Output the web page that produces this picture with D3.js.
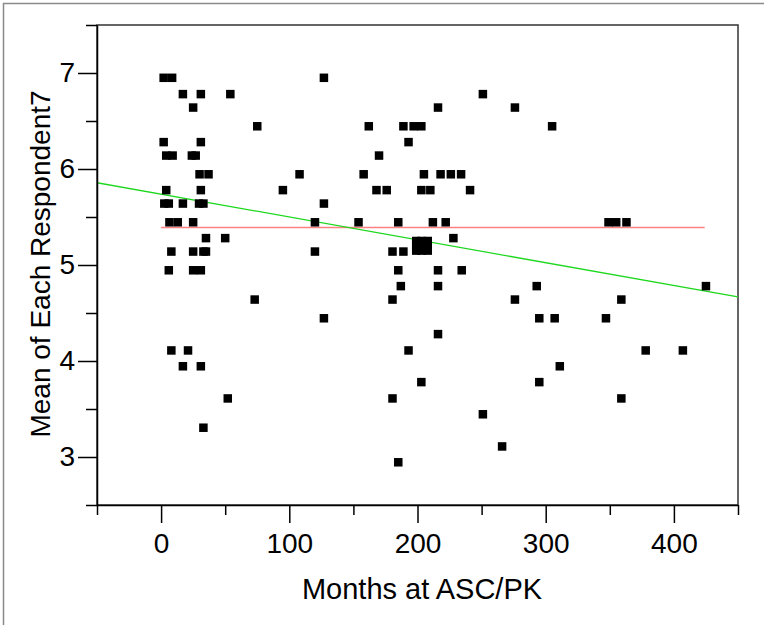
<!DOCTYPE html>
<html>
<head>
<meta charset="utf-8">
<script src="https://cdn.jsdelivr.net/npm/d3@7"></script>
<style>
  body { margin: 0; background: #fff; }
  svg text { font-family: "Liberation Sans", Arial, sans-serif; fill: #000; }
</style>
</head>
<body>
<div id="chart"></div>
<script>
// page size and plot box
const width = 764;
const height = 625;
const margin = {left: 97, right: 26, top: 25, bottom: 120};

// data (months, mean of each respondent)
const months = [
  2, 8.6, 127,
  17, 31, 54, 251,
  25, 216, 276,
  75, 162, 189, 197, 203, 305,
  2, 31, 193,
  4, 9, 24, 27, 170,
  30, 37, 108, 158, 205, 218, 226, 234,
  4, 31, 95, 168, 176, 203, 210, 241,
  2.5, 6, 17, 29.6, 33, 127,
  6.5, 13, 25, 120, 154, 185, 212, 222, 349, 355, 363,
  35, 50, 228,
  199, 203, 208, 199, 208, 199, 203, 208, 203,
  8, 25, 33, 35, 120, 180.5, 189,
  6, 25, 31, 185, 216, 234.5,
  187, 216, 293, 425,
  73, 180.5, 276, 359,
  127, 295, 307, 347,
  216,
  8, 21, 193, 378, 407,
  17, 31, 311,
  203, 295,
  52, 180.5, 359,
  251,
  33,
  266,
  185
];
const respondentMean = [
  6.95, 6.95, 6.95,
  6.78, 6.78, 6.78, 6.78,
  6.64, 6.64, 6.64,
  6.445, 6.445, 6.445, 6.445, 6.445, 6.445,
  6.28, 6.28, 6.28,
  6.14, 6.14, 6.14, 6.14, 6.14,
  5.945, 5.945, 5.945, 5.945, 5.945, 5.945, 5.945, 5.945,
  5.78, 5.78, 5.78, 5.78, 5.78, 5.78, 5.78, 5.78,
  5.64, 5.64, 5.64, 5.64, 5.64, 5.64,
  5.445, 5.445, 5.445, 5.445, 5.445, 5.445, 5.445, 5.445, 5.445, 5.445, 5.445,
  5.28, 5.28, 5.28,
  5.25, 5.25, 5.25, 5.2, 5.2, 5.15, 5.15, 5.15, 5.2,
  5.14, 5.14, 5.14, 5.14, 5.14, 5.14, 5.14,
  4.945, 4.945, 4.945, 4.945, 4.945, 4.945,
  4.78, 4.78, 4.78, 4.78,
  4.64, 4.64, 4.64, 4.64,
  4.445, 4.445, 4.445, 4.445,
  4.28,
  4.11, 4.11, 4.11, 4.11, 4.11,
  3.945, 3.945, 3.945,
  3.78, 3.78,
  3.61, 3.61, 3.61,
  3.445,
  3.305,
  3.11,
  2.945
];

// mean line and linear fit line (end points)
const meanX = [0, 424];
const meanY = [5.39, 5.39];
const fitX = [-50, 450];
const fitY = [5.857, 4.667];

// axis ticks
const xMajor = [0, 100, 200, 300, 400];
const xMinor = [-50, 50, 150, 250, 350, 450];
const yMajor = [3, 4, 5, 6, 7];
const yMinor = [2.5, 3.5, 4.5, 5.5, 6.5, 7.5];

const xTitle = "Months at ASC/PK";
const yTitle = "Mean of Each Respondent7";

const svg = d3.select("#chart")
  .append("svg")
  .attr("width", width)
  .attr("height", height);

// outer report frame
svg.append("rect")
  .attr("x", 3.5).attr("y", 3.5)
  .attr("width", width + 10).attr("height", height + 10)
  .attr("fill", "none")
  .attr("stroke", "#8a8a8a")
  .attr("stroke-width", 1.5);

const xScale = d3.scaleLinear()
  .domain([-50, 450])
  .range([margin.left, width - margin.right]);

const yScale = d3.scaleLinear()
  .domain([2.5, 7.5])
  .range([height - margin.bottom, margin.top]);

// plot frame (top and right sides)
svg.append("rect")
  .attr("x", margin.left).attr("y", margin.top)
  .attr("width", xScale(450) - margin.left)
  .attr("height", yScale(2.5) - margin.top)
  .attr("fill", "none")
  .attr("stroke", "#333")
  .attr("stroke-width", 1.5);

const plot = svg.append("g");

// clip for the fit line
svg.append("clipPath").attr("id", "clip")
  .append("rect")
  .attr("x", margin.left).attr("y", margin.top)
  .attr("width", xScale(450) - margin.left + 2)
  .attr("height", yScale(2.5) - margin.top);

// mean line
plot.append("line")
  .attr("x1", xScale(meanX[0])).attr("y1", yScale(meanY[0]))
  .attr("x2", xScale(meanX[1])).attr("y2", yScale(meanY[1]))
  .attr("stroke", "#ff8080")
  .attr("stroke-width", 1.5);

// fit line
plot.append("line")
  .attr("clip-path", "url(#clip)")
  .attr("x1", xScale(fitX[0])).attr("y1", yScale(fitY[0]))
  .attr("x2", xScale(fitX[1])).attr("y2", yScale(fitY[1]))
  .attr("stroke", "#1ed81e")
  .attr("stroke-width", 1.3);

// points
const size = 8.5;
plot.selectAll(".pt")
  .data(months)
  .enter()
  .append("rect")
    .attr("class", "pt")
    .attr("x", d => xScale(d) - size / 2)
    .attr("y", (d, i) => yScale(respondentMean[i]) - size / 2)
    .attr("width", size)
    .attr("height", size)
    .attr("fill", "#000");

// axes
const bottomY = yScale(2.5);

svg.append("g")
  .attr("transform", `translate(0,${bottomY})`)
  .call(d3.axisBottom(xScale).tickValues(xMinor).tickSize(10).tickSizeOuter(0).tickFormat(""))
  .call(g => g.select(".domain").remove());

svg.append("g")
  .attr("transform", `translate(0,${bottomY})`)
  .call(d3.axisBottom(xScale).tickValues(xMajor).tickSize(18).tickSizeOuter(0).tickPadding(10))
  .attr("font-size", "28px");

svg.append("g")
  .attr("transform", `translate(${margin.left},0)`)
  .call(d3.axisLeft(yScale).tickValues(yMinor).tickSize(11).tickSizeOuter(0).tickFormat(""))
  .call(g => g.select(".domain").remove());

svg.append("g")
  .attr("transform", `translate(${margin.left},0)`)
  .call(d3.axisLeft(yScale).tickValues(yMajor).tickSize(19).tickSizeOuter(0).tickPadding(3)
    .tickFormat(d3.format("d")))
  .attr("font-size", "28px");

svg.selectAll(".tick line, .domain")
  .attr("stroke", "#000")
  .attr("stroke-width", 1.5);
svg.selectAll(".tick text")
  .attr("font-family", "Liberation Sans, Arial, sans-serif")
  .attr("fill", "#000");

// axis titles
svg.append("text")
  .attr("x", 422)
  .attr("y", 599)
  .attr("text-anchor", "middle")
  .attr("font-size", "29px")
  .text(xTitle);

svg.append("text")
  .attr("transform", "translate(50,264) rotate(-90)")
  .attr("text-anchor", "middle")
  .attr("font-size", "28px")
  .text(yTitle);
</script>
</body>
</html>
